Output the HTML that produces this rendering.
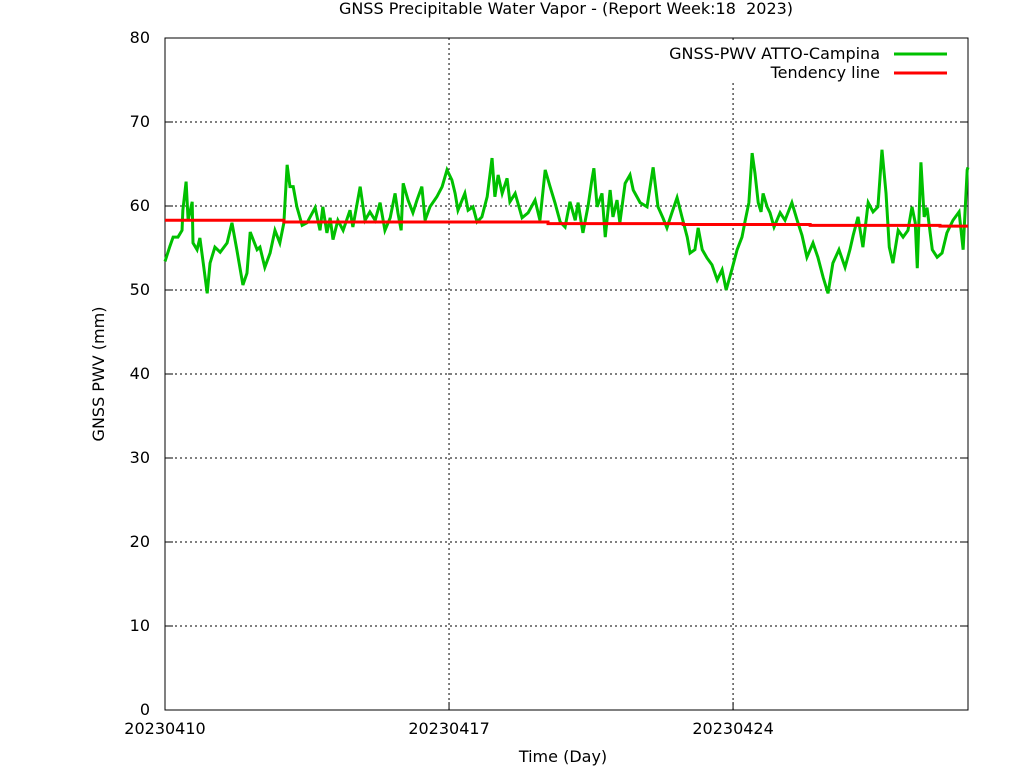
<!DOCTYPE html>
<html><head><meta charset="utf-8"><style>
body{margin:0;background:#fff}
svg text{font-family:"DejaVu Sans","Liberation Sans",sans-serif;font-size:16px;fill:#000;white-space:pre}
</style></head><body>
<svg id="chart" width="1024" height="768">
<text x="566" y="14" text-anchor="middle">GNSS Precipitable Water Vapor - (Report Week:18  2023)</text>
<text x="563" y="762" text-anchor="middle">Time (Day)</text>
<text transform="translate(104,374) rotate(-90)" text-anchor="middle">GNSS PWV (mm)</text>
<g id="grid"></g><g id="axes"></g><g id="series"></g>
<g>
<rect x="660" y="42" width="300" height="40" fill="#fff"/>
<text x="880" y="59" text-anchor="end">GNSS-PWV ATTO-Campina</text>
<line x1="894" y1="54" x2="947" y2="54" stroke="#00c000" stroke-width="3"/>
<text x="880" y="78" text-anchor="end">Tendency line</text>
<line x1="894" y1="73" x2="947" y2="73" stroke="#ff0000" stroke-width="3"/>
</g>
</svg>
<script>
const dayTicks=[0,7,14];
const dayLabels=["20230410","20230417","20230424"];
const yTicks=[0,10,20,30,40,50,60,70,80];
const pwvDays=[0,0.12,0.20,0.32,0.42,0.44,0.52,0.57,0.67,0.69,0.79,0.86,0.94,1.04,1.11,1.23,1.36,1.53,1.65,1.77,1.92,2.02,2.10,2.27,2.34,2.46,2.59,2.71,2.83,2.93,3.01,3.08,3.16,3.25,3.38,3.50,3.70,3.82,3.89,3.99,4.07,4.14,4.26,4.39,4.56,4.63,4.81,4.93,5.05,5.18,5.30,5.42,5.55,5.67,5.74,5.82,5.87,5.99,6.11,6.21,6.33,6.41,6.53,6.70,6.83,6.95,7.07,7.15,7.22,7.39,7.47,7.59,7.69,7.81,7.94,8.06,8.13,8.21,8.31,8.43,8.50,8.63,8.80,8.95,9.12,9.24,9.37,9.49,9.61,9.74,9.86,9.98,10.11,10.18,10.30,10.43,10.52,10.57,10.65,10.77,10.85,10.97,11.04,11.14,11.21,11.34,11.46,11.54,11.71,11.88,12.03,12.15,12.27,12.37,12.50,12.62,12.74,12.87,12.94,13.06,13.14,13.24,13.36,13.48,13.61,13.73,13.83,13.98,14.10,14.22,14.30,14.39,14.47,14.54,14.62,14.69,14.74,14.84,14.91,15.01,15.16,15.28,15.45,15.58,15.70,15.82,15.97,16.09,16.22,16.34,16.46,16.61,16.76,16.88,16.96,17.08,17.20,17.33,17.45,17.57,17.67,17.77,17.85,17.94,18.07,18.19,18.31,18.41,18.49,18.54,18.63,18.71,18.78,18.91,19.03,19.15,19.27,19.42,19.57,19.67,19.77,19.79];
const pwvValues=[53.4,55.2,56.3,56.3,57.1,59.5,62.9,58.3,60.5,55.6,54.8,56.2,53.3,49.6,53.2,55.1,54.5,55.6,58.0,54.8,50.6,52.0,56.9,54.8,55.1,52.7,54.4,57.1,55.6,58.0,64.9,62.3,62.3,59.9,57.7,58.0,59.8,57.1,59.9,56.8,58.6,56.0,58.3,57.1,59.5,57.5,62.3,58.3,59.3,58.3,60.4,57.1,58.6,61.5,59.2,57.1,62.7,60.7,59.2,60.7,62.3,58.3,59.9,61.1,62.3,64.3,63.1,61.5,59.5,61.5,59.5,59.9,58.1,58.7,61.1,65.7,61.1,63.7,61.5,63.3,60.5,61.5,58.6,59.2,60.7,58.3,64.3,62.3,60.4,58.1,57.5,60.5,58.3,60.4,56.8,60.1,63.1,64.5,59.9,61.5,56.3,61.9,58.7,60.7,58.0,62.7,63.7,61.9,60.4,59.9,64.6,59.9,58.6,57.4,59.3,61.0,58.7,56.3,54.4,54.8,57.4,54.8,53.8,53.0,51.2,52.4,50.0,52.6,54.8,56.3,58.3,60.4,66.3,63.9,60.4,59.3,61.5,59.9,59.2,57.5,59.2,58.3,60.4,58.3,56.5,53.9,55.6,53.9,51.5,49.6,53.2,54.8,52.7,54.8,56.5,58.7,55.1,60.4,59.3,59.9,66.7,61.5,55.1,53.2,57.1,56.3,57.1,59.9,58.0,52.6,65.2,58.7,59.8,54.8,53.9,54.4,56.8,58.3,59.3,54.8,64.3,64.6];
const trendDays=[0,2.93,9.44,12.77,15.9,19.1,19.79];
const trendValues=[58.3,58.1,57.9,57.8,57.7,57.6];
const X0=165,X1=968,Y0=710,Y1=38,DMAX=19.79,VMAX=80;
const xs=d=>X0+d*(X1-X0)/DMAX;
const ys=v=>Y0-v*(Y0-Y1)/VMAX;
const NS="http://www.w3.org/2000/svg";
function mk(t,a,p){const e=document.createElementNS(NS,t);for(const k in a)e.setAttribute(k,a[k]);p.appendChild(e);return e;}
const grid=document.getElementById('grid'),axes=document.getElementById('axes'),ser=document.getElementById('series');
yTicks.forEach(v=>{const y=ys(v);
 if(v>0&&v<VMAX){const g=mk('line',{x1:X0,x2:X1,y1:y,y2:y,stroke:'#000','stroke-width':1,'stroke-dasharray':'2,3'},grid);
 
 }
 mk('line',{x1:X0,x2:X0+8,y1:y,y2:y,stroke:'#000'},axes);
 mk('line',{x1:X1-8,x2:X1,y1:y,y2:y,stroke:'#000'},axes);
 const t=mk('text',{x:150,y:y+5,'text-anchor':'end'},axes);t.textContent=v;
 
 
});
dayTicks.forEach((d,i)=>{const x=xs(d);
 if(d>0){const g=mk('line',{x1:x,x2:x,y1:Y1,y2:Y0,stroke:'#000','stroke-width':1,'stroke-dasharray':'2,3'},grid);
 
 }
 mk('line',{x1:x,x2:x,y1:Y0,y2:Y0-8,stroke:'#000'},axes);
 const t=mk('text',{x:x,y:734,'text-anchor':'middle'},axes);t.textContent=dayLabels[i];
 
 
});
const fr=mk('rect',{x:X0,y:Y1,width:X1-X0,height:Y0-Y1,fill:'none',stroke:'#000'},axes);


const pl=mk('polyline',{points:pwvDays.map((d,i)=>xs(d)+','+ys(pwvValues[i])).join(' '),fill:'none',stroke:'#00c000','stroke-width':3,'stroke-linejoin':'miter'},ser);


let pts=[];trendValues.forEach((v,i)=>{pts.push(xs(trendDays[i])+','+ys(v));pts.push(xs(trendDays[i+1])+','+ys(v));});
const tl=mk('polyline',{points:pts.join(' '),fill:'none',stroke:'#ff0000','stroke-width':3},ser);


</script>
</body></html>
